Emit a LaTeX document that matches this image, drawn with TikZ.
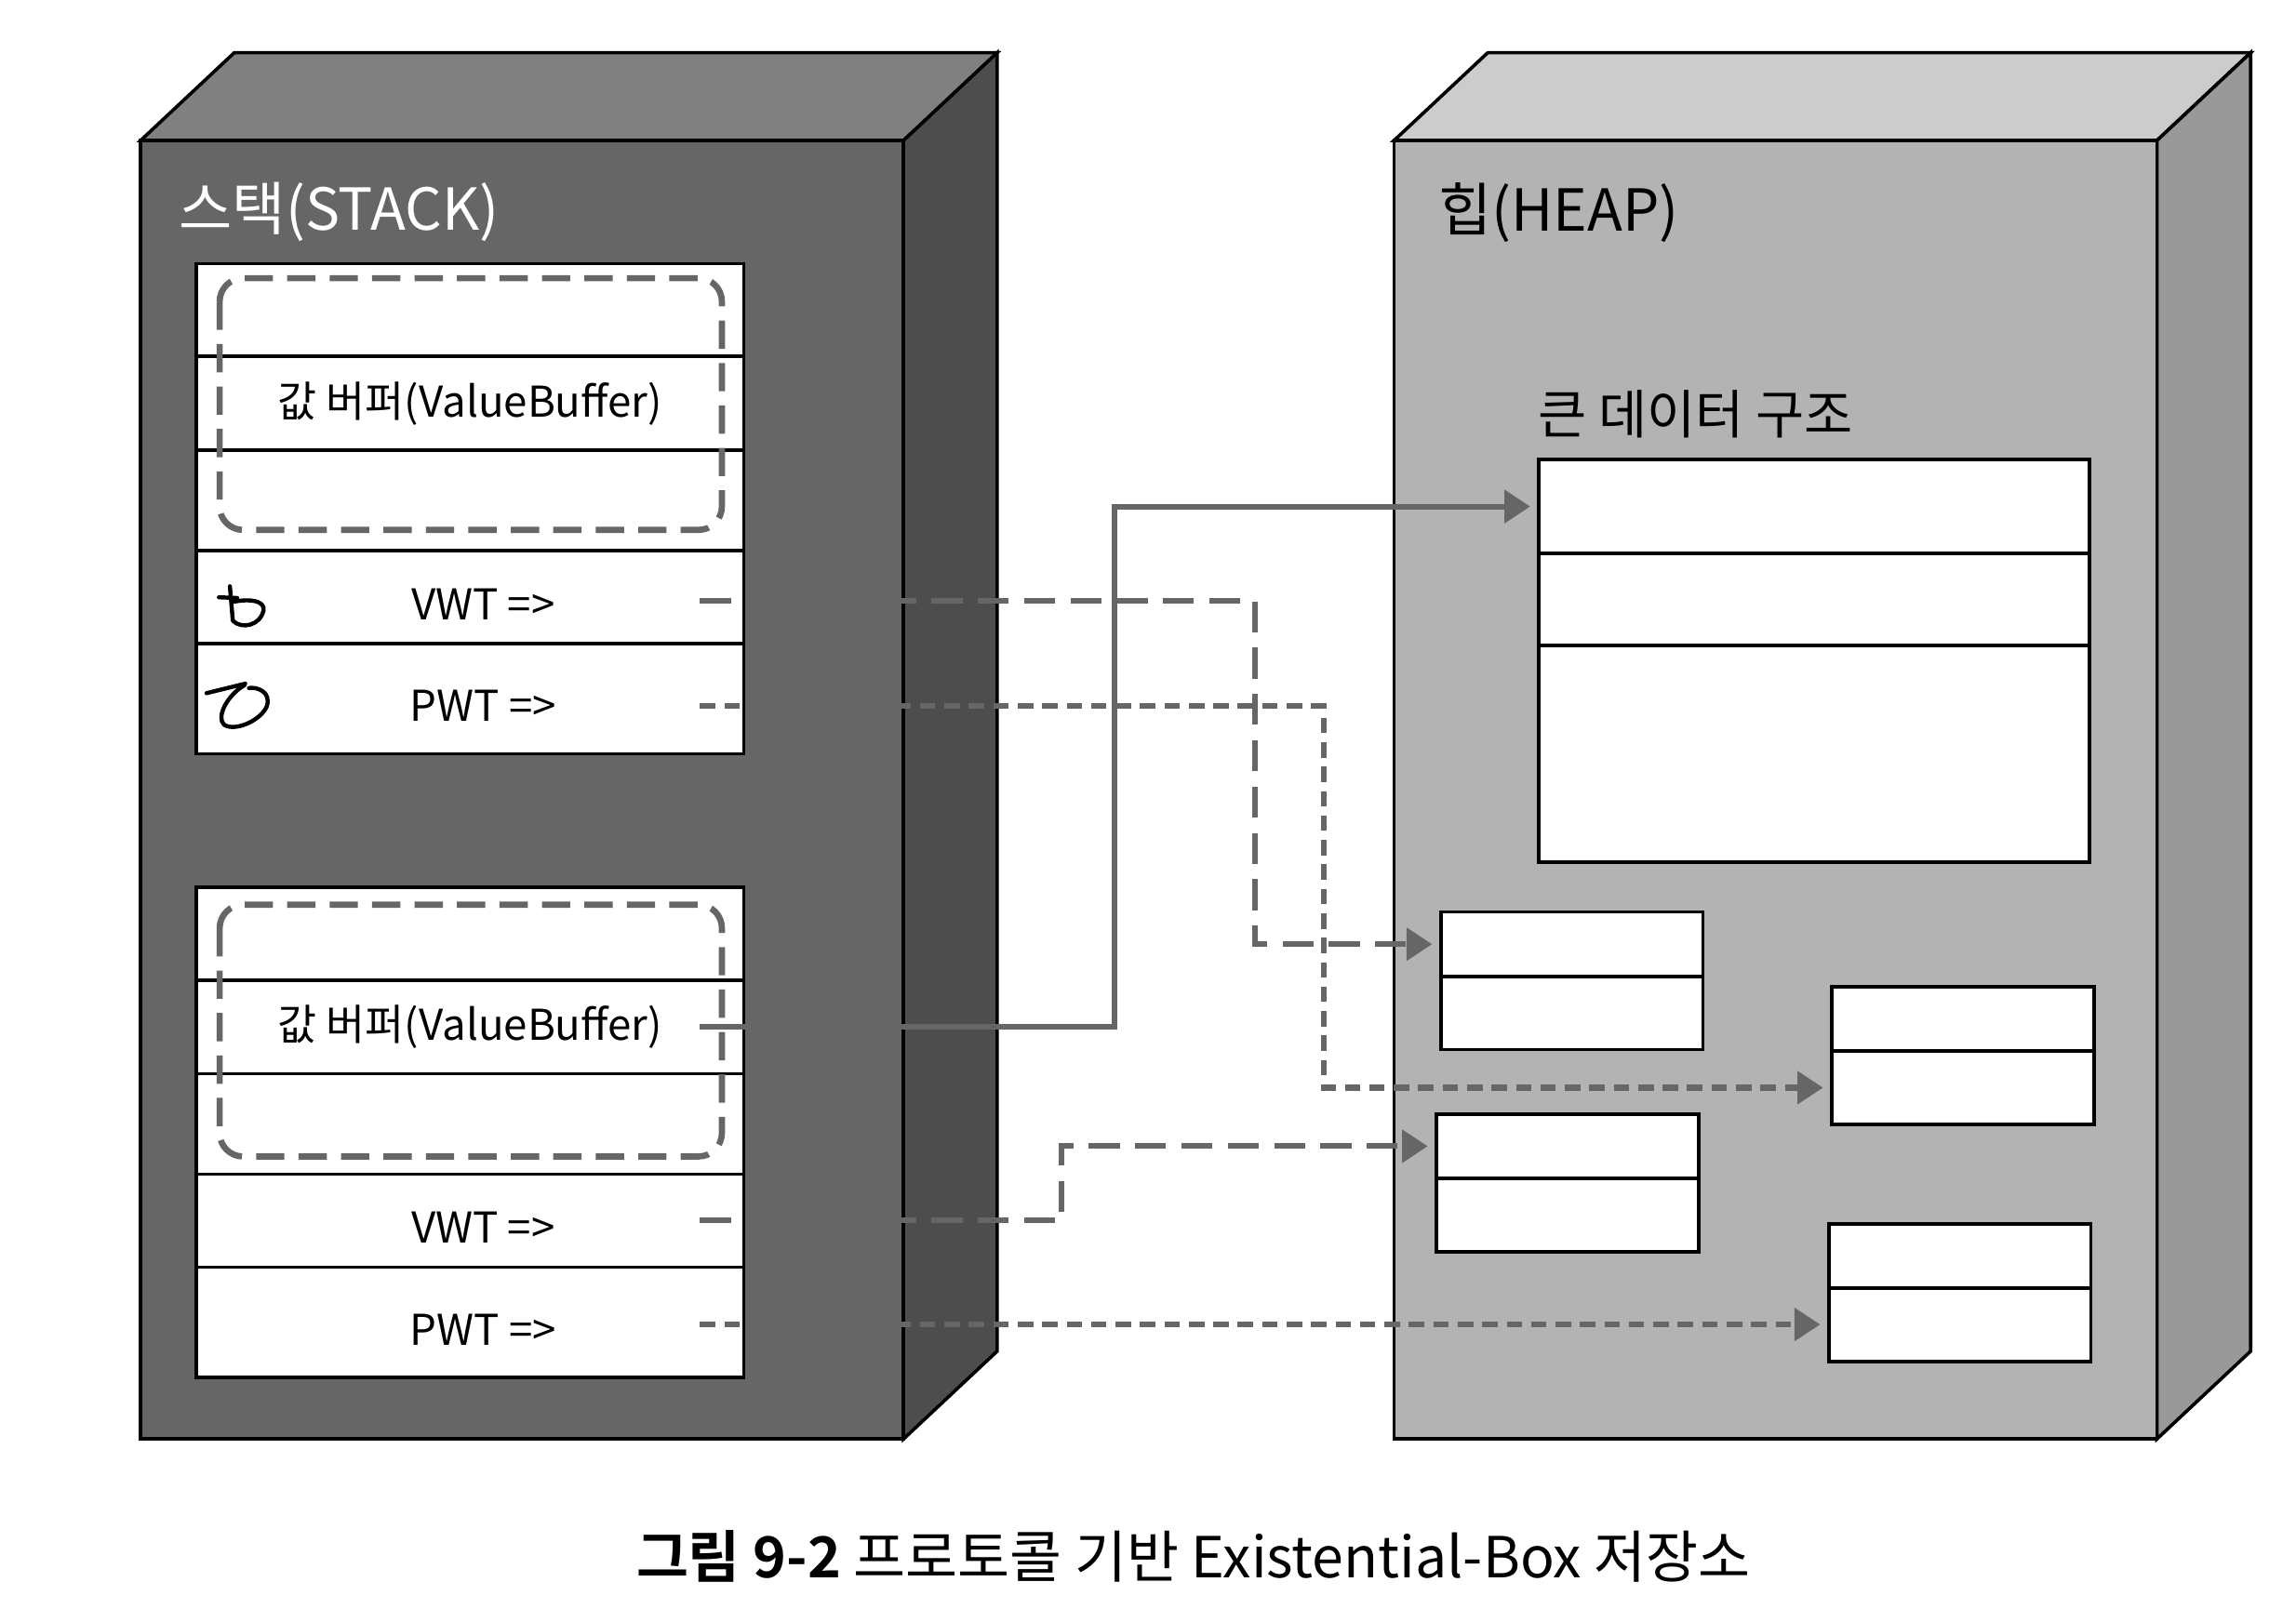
\documentclass[tikz,border=0pt]{standalone}
\usepackage{fontspec}
\setmainfont{Noto Sans CJK KR}[BoldFont={Noto Sans CJK KR Bold}]
\usetikzlibrary{positioning,arrows.meta}
\definecolor{stackfront}{HTML}{666666}
\definecolor{stacktop}{HTML}{808080}
\definecolor{stackside}{HTML}{4D4D4D}
\definecolor{heapfront}{HTML}{B3B3B3}
\definecolor{heaptop}{HTML}{CCCCCC}
\definecolor{heapside}{HTML}{999999}
\definecolor{linkgray}{HTML}{666666}
\newcommand{\wtlabel}[1]{\hspace*{0.36cm}\raisebox{-0.1cm}[\height][\depth]{#1}}
\begin{document}
\begin{tikzpicture}[
  box/.style={draw=black,line width=1.3pt,line join=miter},
  cell/.style={draw,fill=white,line width=1.3pt,minimum width=7.48cm,inner sep=0pt,outer sep=0pt,anchor=north west,font=\fontsize{16.5}{18}\selectfont},
  hcell/.style={draw,fill=white,line width=1.3pt,minimum width=3.58cm,inner sep=0pt,outer sep=0pt,anchor=north west},
  vbframe/.style={draw=linkgray,line width=2.4pt,rounded corners=0.32cm,dash pattern=on 11pt off 5.5pt},
  title/.style={inner sep=0pt,anchor=west,font=\fontsize{22.5}{26}\selectfont},
  link/.style={draw=linkgray,line width=2.2pt,shorten >=3.4pt,-{Triangle[length=10pt,width=12.5pt]}},
  vwtlink/.style={link,dash pattern=on 12pt off 6pt},
  pwtlink/.style={link,dash pattern=on 6pt off 3.5pt},
  scribble/.style={draw=black,line width=1.6pt,line cap=round,line join=round}
]
\useasboundingbox (0,0) rectangle (31.36,-22.16);

% stack block
\filldraw[box,fill=stacktop] (1.92,-1.92) -- (3.2,-0.72) -- (13.62,-0.72) -- (12.34,-1.92) -- cycle;
\filldraw[box,fill=stackside] (12.34,-1.92) -- (13.62,-0.72) -- (13.62,-18.46) -- (12.34,-19.66) -- cycle;
\filldraw[box,fill=stackfront] (1.92,-1.92) rectangle (12.34,-19.66);
\node[title,text=white] (stacklbl) at (2.44,-2.9) {스택(STACK)};

% heap block
\filldraw[box,fill=heaptop] (19.04,-1.92) -- (20.32,-0.72) -- (30.74,-0.72) -- (29.46,-1.92) -- cycle;
\filldraw[box,fill=heapside] (29.46,-1.92) -- (30.74,-0.72) -- (30.74,-18.46) -- (29.46,-19.66) -- cycle;
\filldraw[box,fill=heapfront] (19.04,-1.92) rectangle (29.46,-19.66);
\node[title] (heaplbl) at (19.64,-2.9) {힙(HEAP)};

% existential containers on the stack
\foreach \s/\y in {s1/-3.6,s2/-12.12}{
  \node[cell,minimum height=1.27cm] (\s a) at (2.68,\y) {};
  \node[cell,minimum height=1.28cm,below=0pt of \s a] (\s b) {값 버퍼(ValueBuffer)};
  \node[cell,minimum height=1.37cm,below=0pt of \s b] (\s c) {};
  \node[cell,minimum height=1.27cm,below=0pt of \s c] (\s d) {\wtlabel{VWT =>}};
  \node[cell,minimum height=1.51cm,below=0pt of \s d] (\s e) {\wtlabel{PWT =>}};
}
\draw[vbframe] (3.0,-3.8) rectangle (9.86,-7.24);
\draw[vbframe] (3.0,-12.36) rectangle (9.86,-15.8);

% handwritten marks
\draw[scribble] (3.14,-8.01) -- (3.18,-8.48) .. controls (3.3,-8.6) and (3.55,-8.55) .. (3.6,-8.34)
  .. controls (3.62,-8.2) and (3.4,-8.18) .. (3.2,-8.22);
\draw[scribble] (2.99,-8.16) -- (3.24,-8.17);
\draw[scribble] (2.82,-9.47) -- (3.35,-9.34);
\draw[scribble] (3.34,-9.36) .. controls (3.1,-9.5) and (2.95,-9.8) .. (3.06,-9.9)
  .. controls (3.2,-10.0) and (3.55,-9.85) .. (3.64,-9.66)
  .. controls (3.72,-9.45) and (3.5,-9.38) .. (3.4,-9.4);

% big data structure on the heap
\node[title,font=\fontsize{20.5}{24}\selectfont] (biglbl) at (21.0,-5.66) {큰 데이터 구조};
\node[hcell,minimum width=7.52cm,minimum height=1.28cm] (big1) at (21.02,-6.28) {};
\node[hcell,minimum width=7.52cm,minimum height=1.26cm,below=0pt of big1] (big2) {};
\node[hcell,minimum width=7.52cm,minimum height=2.96cm,below=0pt of big2] (big3) {};

% witness tables on the heap
\foreach \n/\x/\y in {hA/19.68/-12.46,hB/25.02/-13.48,hC/19.62/-15.22,hD/24.98/-16.72}{
  \node[hcell,minimum height=0.88cm] (\n1) at (\x,\y) {};
  \node[hcell,minimum height=1.0cm,below=0pt of \n1] (\n2) {};
}

% pointers
\coordinate (vb2o) at ([xshift=-0.6cm]s2b.east);
\coordinate (vwt1o) at ([xshift=-0.6cm,yshift=-0.05cm]s1d.east);
\coordinate (pwt1o) at ([xshift=-0.6cm,yshift=-0.1cm]s1e.east);
\coordinate (vwt2o) at ([xshift=-0.6cm]s2d.east);
\coordinate (pwt2o) at ([xshift=-0.6cm,yshift=-0.03cm]s2e.east);
\draw[link] (vb2o) -- ++(5.66,0) |- (big1.west);
\draw[vwtlink] (vwt1o) -- ++(7.58,0) |- (hA1.west);
\draw[pwtlink] (pwt1o) -- ++(8.52,0) |- (hB2.west);
\draw[vwtlink] (vwt2o) -- ++(4.94,0) |- (hC1.west);
\draw[pwtlink] (pwt2o) -- (pwt2o -| hD2.west);

\node[font=\fontsize{22}{26}\selectfont] (caption) at (16.3,-21.26) {\textbf{그림 9-2} 프로토콜 기반 Existential-Box 저장소};
\end{tikzpicture}
\end{document}
